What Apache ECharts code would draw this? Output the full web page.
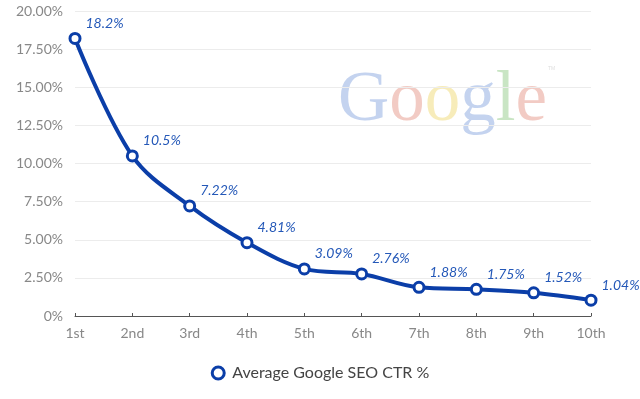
<!DOCTYPE html>
<html>
<head>
<meta charset="utf-8">
<script src="https://cdn.jsdelivr.net/npm/echarts@6/dist/echarts.min.js"></script>
<style>
  html, body { margin: 0; padding: 0; background: #fff; }
  #chart { width: 640px; height: 399px; }
</style>
</head>
<body>
<div id="chart"></div>
<script>
  // positions in the google results page
  var positions = ['1st', '2nd', '3rd', '4th', '5th', '6th', '7th', '8th', '9th', '10th'];
  // average click through rate, %
  var ctrValues = [18.2, 10.5, 7.22, 4.81, 3.09, 2.76, 1.88, 1.75, 1.52, 1.04];
  var seriesName = 'Average Google SEO CTR %';

  var lineColor = '#0b3ea8';
  var font = 'Lato';

  var myChart = echarts.init(document.getElementById('chart'));
  myChart.setOption({
    backgroundColor: '#fff',
    animation: false,
    grid: { left: 75, right: 49, top: 11, bottom: 83 },
    graphic: [{
      type: 'text',
      left: 338,
      top: 66,
      z: 0,
      silent: true,
      style: {
        text: '{b|G}{r|o}{y|o}{b|g}{g|l}{r|e}{t|TM}',
        rich: {
          b: { fill: '#9db6e4', fontSize: 71, fontFamily: 'Liberation Serif' },
          r: { fill: '#eaa89c', fontSize: 71, fontFamily: 'Liberation Serif' },
          y: { fill: '#f1e08c', fontSize: 71, fontFamily: 'Liberation Serif' },
          g: { fill: '#a5d39c', fontSize: 71, fontFamily: 'Liberation Serif' },
          t: { fill: '#c8c8c8', fontSize: 5, fontFamily: 'Liberation Sans', verticalAlign: 'top', padding: [0, 0, 42, 1] }
        },
        opacity: 0.6
      }
    }],
    legend: {
      bottom: 13,
      left: 'center',
      itemWidth: 18,
      itemHeight: 12,
      itemGap: 8,
      textStyle: { color: '#444', fontSize: 16, fontFamily: font },
      itemStyle: { borderWidth: 3 },
      data: [{ name: seriesName, icon: 'circle' }]
    },
    xAxis: {
      type: 'category',
      boundaryGap: false,
      data: positions,
      axisLine: { lineStyle: { color: '#555', width: 1 } },
      axisTick: { show: true, inside: true, length: 3, lineStyle: { color: '#555' } },
      axisLabel: { color: '#888', fontSize: 14, fontFamily: font, margin: 10 },
      splitLine: { show: false }
    },
    yAxis: {
      type: 'value',
      min: 0,
      max: 20,
      interval: 2.5,
      axisLine: { show: false },
      axisTick: { show: false },
      axisLabel: {
        color: '#888',
        fontSize: 14,
        fontFamily: font,
        margin: 12,
        formatter: function (v) { return v === 0 ? '0%' : v.toFixed(2) + '%'; }
      },
      splitLine: { lineStyle: { color: '#ececec', width: 1 } }
    },
    series: [{
      name: seriesName,
      type: 'line',
      data: ctrValues,
      smooth: 0.35,
      z: 5,
      symbol: 'circle',
      symbolSize: 10,
      lineStyle: { color: lineColor, width: 4 },
      itemStyle: { color: '#fff', borderColor: lineColor, borderWidth: 3 },
      label: {
        show: true,
        position: 'right',
        distance: 2,
        offset: [2, -15],
        color: '#2458b8',
        fontStyle: 'italic',
        fontSize: 14,
        fontFamily: font,
        formatter: function (p) { return p.value + '%'; }
      }
    }]
  });
  window.onresize = myChart.resize;
</script>
</body>
</html>
